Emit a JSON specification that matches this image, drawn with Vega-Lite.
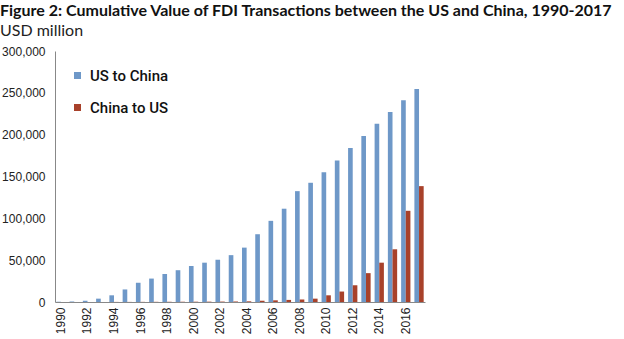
{
  "$schema": "https://vega.github.io/schema/vega-lite/v6.json",
  "width": 370,
  "height": 251,
  "autosize": {"type": "none"},
  "padding": {"left": 55, "top": 51, "right": 199, "bottom": 37},
  "background": "white",
  "title": {
    "text": "Figure 2: Cumulative Value of FDI Transactions between the US and China, 1990-2017",
    "subtitle": "USD million",
    "anchor": "start",
    "frame": "group",
    "dx": -55,
    "offset": 6,
    "font": "Lato",
    "fontSize": 16,
    "fontWeight": "bold",
    "color": "#111",
    "subtitleFont": "Lato",
    "subtitleFontSize": 16,
    "subtitleColor": "#222",
    "subtitlePadding": 4
  },
  "data": {
    "values": [
      {"year": 1990, "series": "US to China", "value": 300},
      {"year": 1991, "series": "US to China", "value": 600},
      {"year": 1992, "series": "US to China", "value": 1500},
      {"year": 1993, "series": "US to China", "value": 4000},
      {"year": 1994, "series": "US to China", "value": 8000},
      {"year": 1995, "series": "US to China", "value": 15000},
      {"year": 1996, "series": "US to China", "value": 23000},
      {"year": 1997, "series": "US to China", "value": 28000},
      {"year": 1998, "series": "US to China", "value": 33500},
      {"year": 1999, "series": "US to China", "value": 38000},
      {"year": 2000, "series": "US to China", "value": 43000},
      {"year": 2001, "series": "US to China", "value": 47000},
      {"year": 2002, "series": "US to China", "value": 50500},
      {"year": 2003, "series": "US to China", "value": 56000},
      {"year": 2004, "series": "US to China", "value": 65000},
      {"year": 2005, "series": "US to China", "value": 81000},
      {"year": 2006, "series": "US to China", "value": 97000},
      {"year": 2007, "series": "US to China", "value": 111500},
      {"year": 2008, "series": "US to China", "value": 132500},
      {"year": 2009, "series": "US to China", "value": 142500},
      {"year": 2010, "series": "US to China", "value": 155000},
      {"year": 2011, "series": "US to China", "value": 169000},
      {"year": 2012, "series": "US to China", "value": 184000},
      {"year": 2013, "series": "US to China", "value": 198500},
      {"year": 2014, "series": "US to China", "value": 213000},
      {"year": 2015, "series": "US to China", "value": 227000},
      {"year": 2016, "series": "US to China", "value": 241000},
      {"year": 2017, "series": "US to China", "value": 254500},
      {"year": 1990, "series": "China to US", "value": 0},
      {"year": 1991, "series": "China to US", "value": 0},
      {"year": 1992, "series": "China to US", "value": 0},
      {"year": 1993, "series": "China to US", "value": 0},
      {"year": 1994, "series": "China to US", "value": 100},
      {"year": 1995, "series": "China to US", "value": 100},
      {"year": 1996, "series": "China to US", "value": 150},
      {"year": 1997, "series": "China to US", "value": 200},
      {"year": 1998, "series": "China to US", "value": 250},
      {"year": 1999, "series": "China to US", "value": 300},
      {"year": 2000, "series": "China to US", "value": 350},
      {"year": 2001, "series": "China to US", "value": 400},
      {"year": 2002, "series": "China to US", "value": 500},
      {"year": 2003, "series": "China to US", "value": 600},
      {"year": 2004, "series": "China to US", "value": 800},
      {"year": 2005, "series": "China to US", "value": 1500},
      {"year": 2006, "series": "China to US", "value": 2000},
      {"year": 2007, "series": "China to US", "value": 2500},
      {"year": 2008, "series": "China to US", "value": 3000},
      {"year": 2009, "series": "China to US", "value": 4000},
      {"year": 2010, "series": "China to US", "value": 8000},
      {"year": 2011, "series": "China to US", "value": 12500},
      {"year": 2012, "series": "China to US", "value": 20000},
      {"year": 2013, "series": "China to US", "value": 34500},
      {"year": 2014, "series": "China to US", "value": 47000},
      {"year": 2015, "series": "China to US", "value": 63000},
      {"year": 2016, "series": "China to US", "value": 109000},
      {"year": 2017, "series": "China to US", "value": 138500}
    ]
  },
  "mark": {"type": "bar"},
  "encoding": {
    "x": {
      "field": "year",
      "type": "ordinal",
      "scale": {"paddingInner": 0.3, "paddingOuter": 0.1},
      "axis": {
        "title": null,
        "values": [1990, 1992, 1994, 1996, 1998, 2000, 2002, 2004, 2006, 2008, 2010, 2012, 2014, 2016],
        "labelAngle": -90,
        "labelFont": "Liberation Sans",
        "labelFontSize": 12,
        "labelColor": "#222",
        "labelPadding": 5,
        "ticks": false,
        "domainColor": "#888",
        "domainWidth": 1,
        "grid": false
      }
    },
    "xOffset": {
      "field": "series",
      "type": "nominal",
      "sort": ["US to China", "China to US"]
    },
    "y": {
      "field": "value",
      "type": "quantitative",
      "scale": {"domain": [0, 300000], "nice": false},
      "axis": {
        "title": null,
        "values": [0, 50000, 100000, 150000, 200000, 250000, 300000],
        "format": ",d",
        "labelFont": "Liberation Sans",
        "labelFontSize": 12,
        "labelColor": "#222",
        "labelPadding": 10,
        "ticks": false,
        "grid": false,
        "domainColor": "#888",
        "domainWidth": 1
      }
    },
    "color": {
      "field": "series",
      "type": "nominal",
      "sort": ["US to China", "China to US"],
      "scale": {"domain": ["US to China", "China to US"], "range": ["#6E98C8", "#A8412A"]},
      "legend": {
        "title": null,
        "orient": "none",
        "legendX": 15,
        "legendY": 17,
        "symbolType": "square",
        "symbolSize": 49,
        "symbolStrokeWidth": 0,
        "labelFont": "Roboto",
        "labelFontWeight": 500,
        "labelFontSize": 15,
        "labelColor": "#111",
        "rowPadding": 16,
        "labelOffset": 5
      }
    }
  },
  "config": {"view": {"stroke": null}}
}
